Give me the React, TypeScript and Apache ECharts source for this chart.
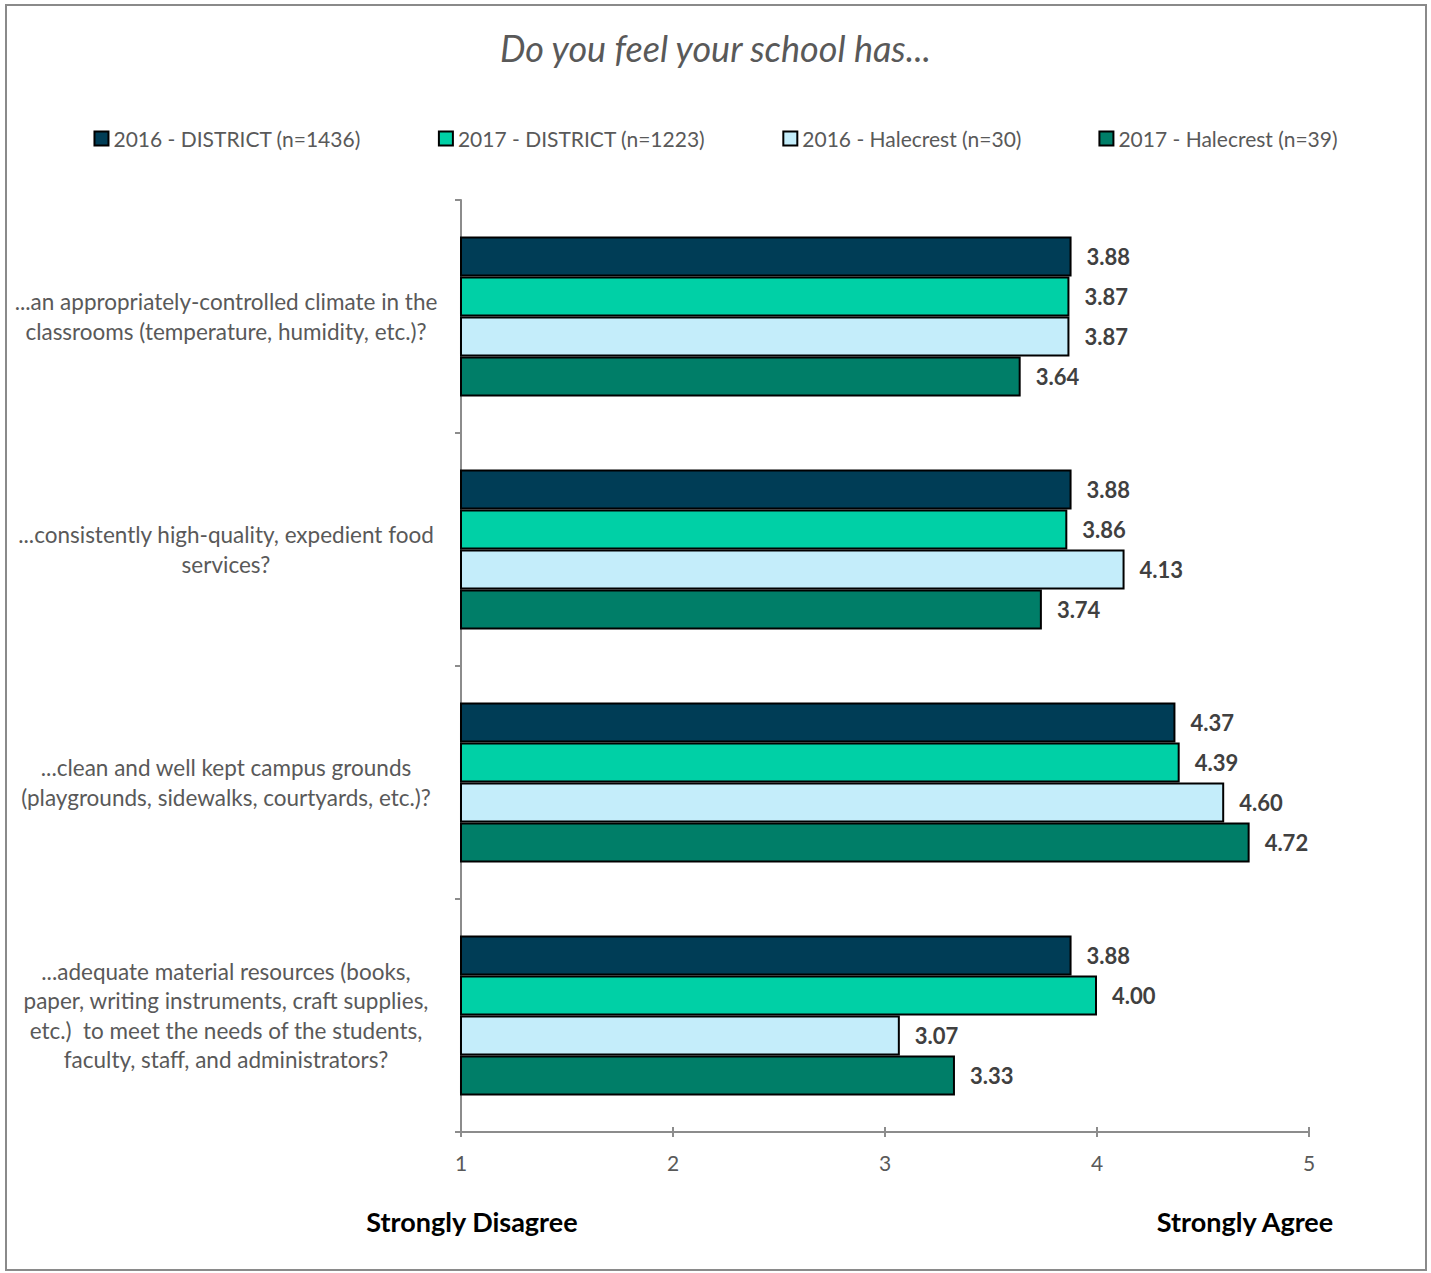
import React, { useEffect, useRef } from "react";
import * as echarts from "echarts";

const categories = [
  "...an appropriately-controlled climate in the\nclassrooms (temperature, humidity, etc.)?",
  "...consistently high-quality, expedient food\nservices?",
  "...clean and well kept campus grounds\n(playgrounds, sidewalks, courtyards, etc.)?",
  "...adequate material resources (books,\npaper, writing instruments, craft supplies,\netc.)  to meet the needs of the students,\nfaculty, staff, and administrators?",
];
const seriesNames = [
  "2016 - DISTRICT (n=1436)",
  "2017 - DISTRICT (n=1223)",
  "2016 - Halecrest (n=30)",
  "2017 - Halecrest (n=39)",
];
const district2016 = [3.88, 3.88, 4.37, 3.88];
const district2017 = [3.87, 3.86, 4.39, 4.0];
const halecrest2016 = [3.87, 4.13, 4.6, 3.07];
const halecrest2017 = [3.64, 3.74, 4.72, 3.33];
const xTicks = [1, 2, 3, 4, 5];
const seriesColors = ["#003D56", "#00D0A6", "#C4EDFA", "#007E68"];

const FONT = "Lato, 'Open Sans', sans-serif";

export default function App() {
  const ref = useRef<HTMLDivElement>(null);
  useEffect(() => {
    if (!ref.current) return;
    const chart = echarts.init(ref.current, undefined, { renderer: "svg" });
    const allData = [district2016, district2017, halecrest2016, halecrest2017];
    chart.setOption({
      animation: false,
      backgroundColor: "#ffffff",
      title: {
        text: "Do you feel your school has...",
        left: "center",
        top: 25,
        textStyle: {
          fontFamily: FONT,
          fontStyle: "italic",
          fontWeight: "normal",
          fontSize: 36,
          color: "#595959",
        },
      },
      legend: {
        top: 123,
        left: "center",
        itemGap: 77,
        itemWidth: 14,
        itemHeight: 14,
        icon: "rect",
        textStyle: { fontFamily: FONT, fontSize: 21, color: "#595959" },
        data: seriesNames,
      },
      grid: { left: 461, right: 122, top: 200, bottom: 141 },
      xAxis: [
        {
          type: "value",
          min: xTicks[0],
          max: xTicks[xTicks.length - 1],
          interval: 1,
          splitLine: { show: false },
          axisLine: { show: true, lineStyle: { color: "#8c8c8c", width: 2 } },
          axisTick: { show: true, length: 5, lineStyle: { color: "#8c8c8c", width: 2 } },
          axisLabel: {
            margin: 20,
            fontFamily: FONT,
            fontSize: 21,
            color: "#595959",
          },
        },
        {
          type: "value",
          position: "bottom",
          min: xTicks[0],
          max: xTicks[xTicks.length - 1],
          interval: 1,
          splitLine: { show: false },
          axisLine: { show: false },
          axisTick: { show: true, inside: true, length: 5, lineStyle: { color: "#8c8c8c", width: 2 } },
          axisLabel: { show: false },
        },
      ],
      yAxis: {
        type: "category",
        inverse: true,
        data: categories,
        axisLine: { show: true, lineStyle: { color: "#8c8c8c", width: 2 } },
        axisTick: { show: true, length: 6, lineStyle: { color: "#8c8c8c", width: 2 } },
        axisLabel: {
          margin: 235,
          align: "center",
          fontFamily: FONT,
          fontSize: 22.5,
          lineHeight: 29.5,
          color: "#595959",
        },
      },
      series: seriesNames.map((name, i) => ({
        name,
        type: "bar",
        xAxisIndex: 0,
        data: allData[i],
        barWidth: 40,
        barGap: "0%",
        itemStyle: { color: seriesColors[i], borderColor: "#000000", borderWidth: 2 },
        label: {
          show: true,
          position: "right",
          distance: 15,
          fontFamily: FONT,
          fontWeight: "bold",
          fontSize: 22,
          color: "#404040",
          formatter: (p: any) => Number(p.value).toFixed(2),
        },
      })),
      graphic: [
        {
          type: "rect",
          shape: { x: 6, y: 5, width: 1420, height: 1265 },
          style: { fill: "none", stroke: "#8a8a8a", lineWidth: 2 },
          silent: true,
        },
        {
          type: "text",
          x: 472,
          y: 1221,
          style: {
            text: "Strongly Disagree",
            fontFamily: FONT,
            fontWeight: "bold",
            fontSize: 27,
            fill: "#000000",
            align: "center",
            verticalAlign: "middle",
          },
        },
        {
          type: "text",
          x: 1245,
          y: 1221,
          style: {
            text: "Strongly Agree",
            fontFamily: FONT,
            fontWeight: "bold",
            fontSize: 27,
            fill: "#000000",
            align: "center",
            verticalAlign: "middle",
          },
        },
      ],
    });
    return () => chart.dispose();
  }, []);
  return (
    <div
      ref={ref}
      style={{ position: "absolute", left: 0, top: 0, width: 1431, height: 1273 }}
    />
  );
}
